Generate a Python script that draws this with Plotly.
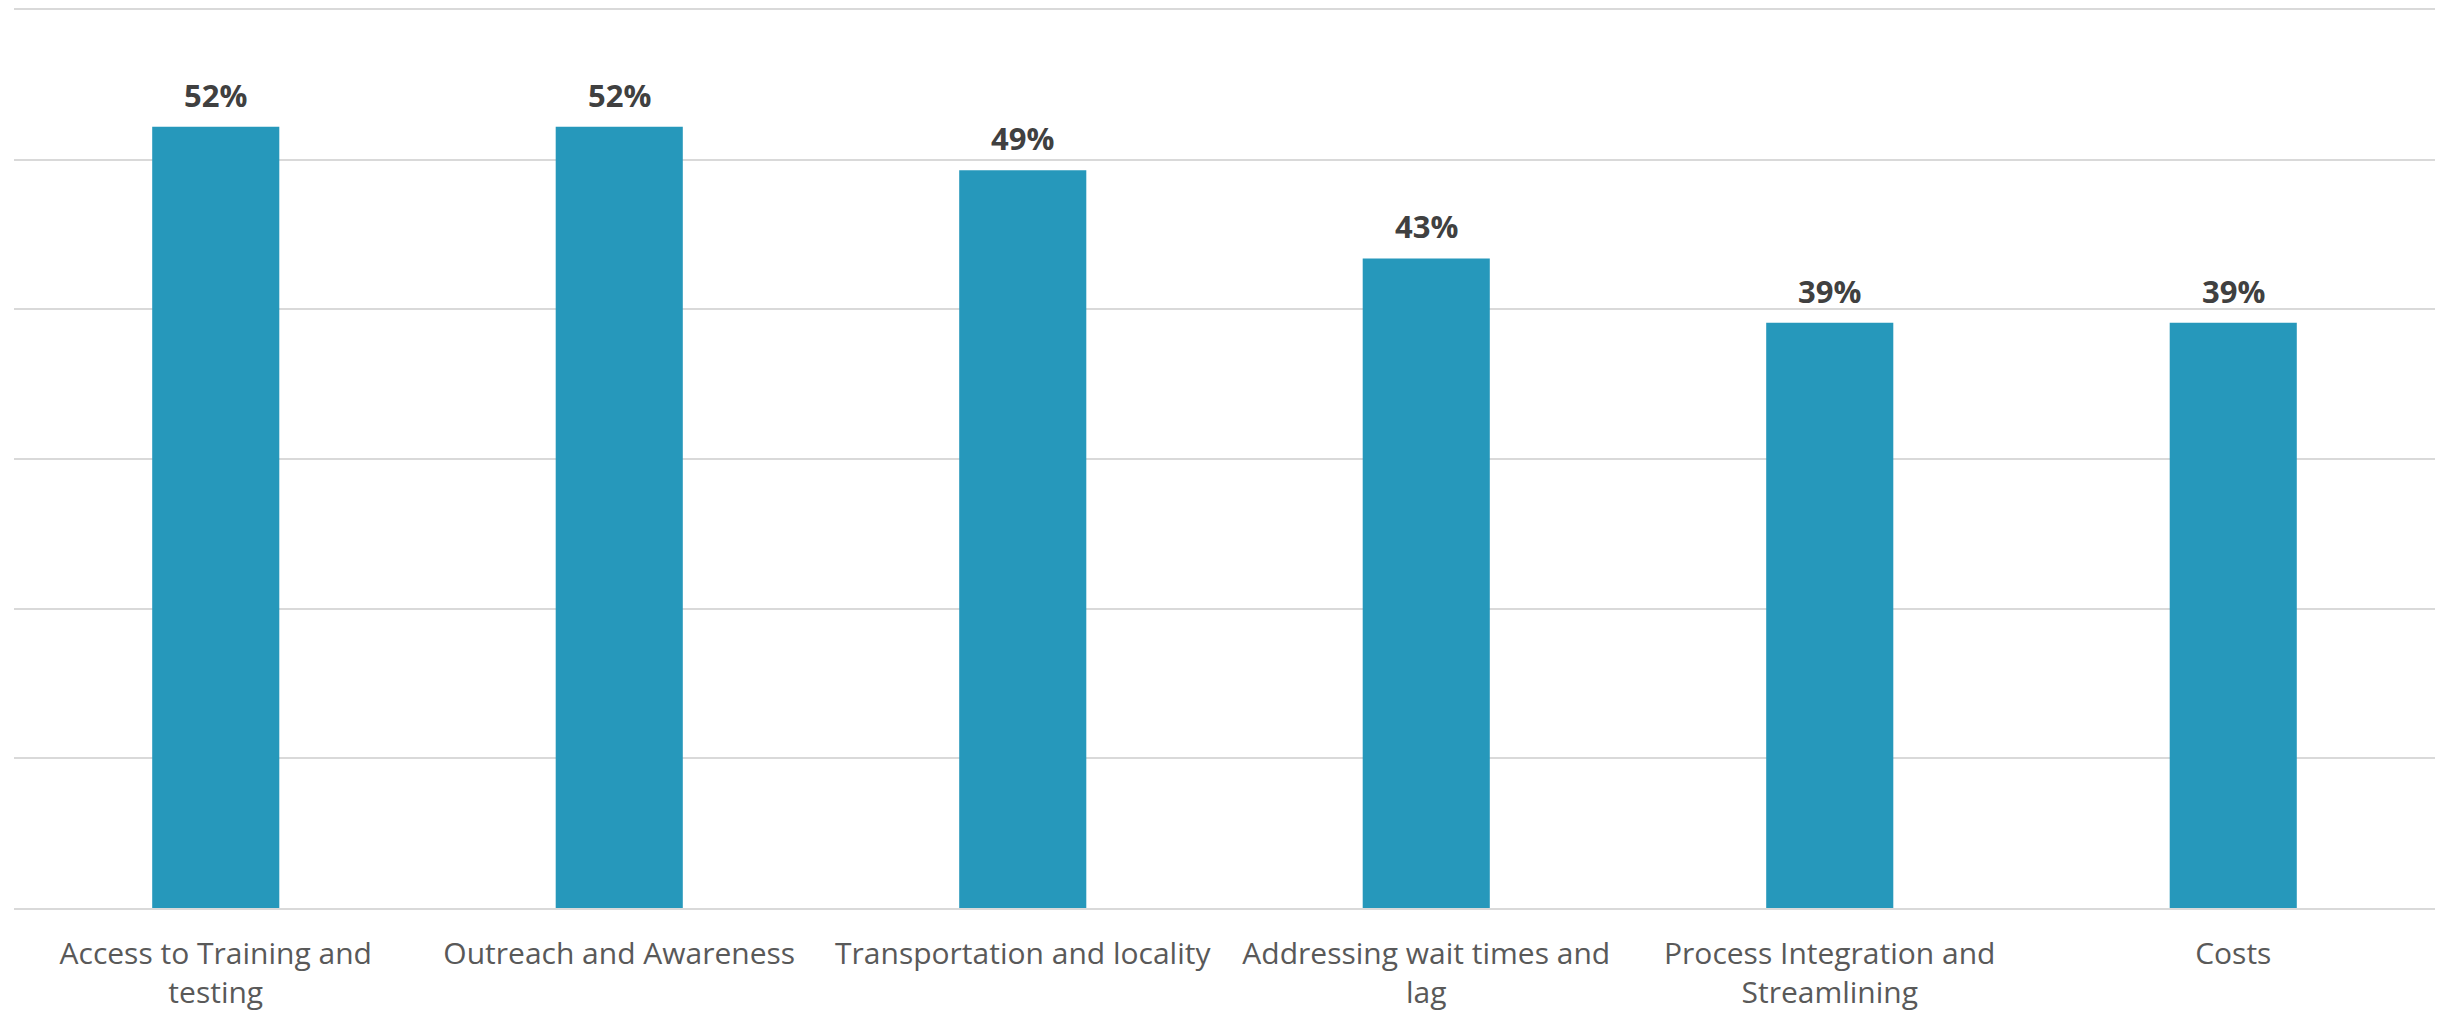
import plotly.graph_objects as go

categories = [
    "Access to Training and<br>testing",
    "Outreach and Awareness",
    "Transportation and locality",
    "Addressing wait times and<br>lag",
    "Process Integration and<br>Streamlining",
    "Costs",
]
values = [0.522, 0.522, 0.493, 0.434, 0.391, 0.391]

fig = go.Figure()
fig.add_trace(go.Bar(
    x=categories,
    y=values,
    marker=dict(color="#2698BB", line=dict(width=0)),
    hoverinfo="skip",
))

for c, v in zip(categories, values):
    fig.add_annotation(
        x=c, y=v, text=f"<b>{v:.0%}</b>", showarrow=False,
        yanchor="bottom", yshift=9,
        font=dict(family="Open Sans", size=31, color="#404040"),
    )

fig.update_layout(
    width=2450,
    height=1021,
    margin=dict(l=14, r=15, t=8, b=113),
    plot_bgcolor="white",
    paper_bgcolor="white",
    bargap=0.685,
    showlegend=False,
    font=dict(family="Open Sans", color="#595959"),
)
fig.update_xaxes(
    tickfont=dict(family="Open Sans", size=30, color="#595959"),
    showline=True,
    mirror=True,
    linecolor="#d9d9d9",
    linewidth=2,
    ticks="",
    showgrid=False,
    ticklabelstandoff=18,
)
fig.update_yaxes(
    range=[0, 0.6],
    dtick=0.1,
    showgrid=True,
    gridcolor="#d9d9d9",
    gridwidth=2,
    showticklabels=False,
    zeroline=False,
    ticks="",
)

fig.write_html("out.html")
